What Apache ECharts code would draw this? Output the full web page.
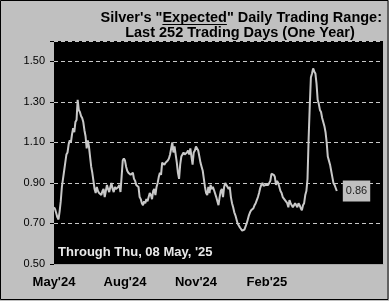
<!DOCTYPE html>
<html>
<head>
<meta charset="utf-8">
<script src="https://cdn.jsdelivr.net/npm/echarts@6/dist/echarts.min.js"></script>
<style>
html,body{margin:0;padding:0;background:#c0c0c0;}
#chart{width:389px;height:301px;}
</style>
</head>
<body>
<div id="chart"></div>
<script>
// Silver expected daily trading range, last 252 trading days (index 0 = May'24)
const values = [
  0.78, 0.77, 0.75, 0.73, 0.72, 0.76, 0.81, 0.88, 0.92, 0.96,
  1.00, 1.04, 1.05, 1.09, 1.11, 1.10, 1.14, 1.17, 1.15, 1.20,
  1.21, 1.31, 1.26, 1.25, 1.23, 1.22, 1.20, 1.16, 1.13, 1.07,
  1.11, 1.08, 1.03, 0.98, 0.95, 0.91, 0.87, 0.85, 0.88, 0.86,
  0.85, 0.85, 0.84, 0.86, 0.87, 0.83, 0.86, 0.89, 0.87, 0.855,
  0.88, 0.90, 0.87, 0.855, 0.88, 0.87, 0.865, 0.88, 0.89, 0.855,
  0.93, 1.01, 1.02, 1.01, 0.98, 0.96, 0.95, 0.95, 0.94, 0.945,
  0.95, 0.92, 0.91, 0.89, 0.885, 0.88, 0.83, 0.82, 0.80, 0.79,
  0.81, 0.80, 0.82, 0.81, 0.83, 0.85, 0.84, 0.82, 0.86, 0.87,
  0.84, 0.88, 0.90, 0.93, 0.95, 0.94, 1.00, 1.00, 0.99, 1.00,
  1.00, 1.01, 1.02, 1.04, 1.07, 1.10, 1.05, 1.08, 1.04, 1.00,
  0.95, 0.92, 0.99, 1.03, 1.03, 1.05, 1.04, 1.045, 1.05, 1.06,
  1.04, 1.07, 1.03, 0.99, 1.05, 1.06, 1.08, 1.08, 1.06, 1.03,
  1.00, 0.98, 0.96, 0.92, 0.88, 0.85, 0.84, 0.88, 0.85, 0.89,
  0.87, 0.88, 0.865, 0.86, 0.83, 0.81, 0.79, 0.83, 0.86, 0.87,
  0.83, 0.88, 0.90, 0.905, 0.88, 0.87, 0.88, 0.83, 0.80, 0.78,
  0.755, 0.74, 0.72, 0.70, 0.69, 0.68, 0.675, 0.665, 0.66, 0.67,
  0.675, 0.70, 0.72, 0.74, 0.755, 0.765, 0.76, 0.775, 0.79, 0.80,
  0.815, 0.83, 0.85, 0.875, 0.89, 0.90, 0.885, 0.89, 0.89, 0.885,
  0.89, 0.90, 0.91, 0.945, 0.95, 0.94, 0.93, 0.89, 0.91, 0.90,
  0.88, 0.86, 0.85, 0.83, 0.825, 0.815, 0.81, 0.80, 0.78, 0.815,
  0.80, 0.79, 0.78, 0.775, 0.80, 0.79, 0.78, 0.80, 0.79, 0.775,
  0.765, 0.79, 0.80, 0.84, 0.86, 0.92, 1.12, 1.28, 1.42, 1.44,
  1.465, 1.45, 1.44, 1.39, 1.31, 1.29, 1.26, 1.25, 1.22, 1.22,
  1.18, 1.15, 1.10, 1.03, 1.01, 0.99, 0.96, 0.93, 0.90, 0.89,
  0.875, 0.86
];
// x tick labels at every 63 trading days (one quarter)
const xTickIndex = [0, 63, 126, 189];
const xTickLabels = ["May'24", "Aug'24", "Nov'24", "Feb'25"];
const yTicks = [0.50, 0.70, 0.90, 1.10, 1.30, 1.50];
const titlePre = "Silver's \"";
const titleWord = "Expected";
const titlePost = "\" Daily Trading Range:";
const titleLine2 = "Last 252 Trading Days (One Year)";
const footNote = "Through Thu, 08 May, '25";

const seriesData = values.map((v, i) => [i, v]);

// measure title pieces for the underline under "Expected"
const titleFont = 'bold 14.5px "Liberation Sans", Arial';
const mctx = document.createElement('canvas').getContext('2d');
mctx.font = titleFont;
const fullTitle = titlePre + titleWord + titlePost;
const titleRight = 382;
const wFull = mctx.measureText(fullTitle).width;
const wPre = mctx.measureText(titlePre).width;
const wWord = mctx.measureText(titleWord).width;
const ulX1 = titleRight - wFull + wPre;
const ulX2 = ulX1 + wWord;

const chart = echarts.init(document.getElementById('chart'), null, {renderer: 'canvas'});
chart.setOption({
  animation: false,
  backgroundColor: '#c0c0c0',
  grid: {left: 54, top: 41, right: 6, bottom: 37, show: true, backgroundColor: '#000000', borderWidth: 0},
  xAxis: {
    type: 'value', min: 0, max: 292, interval: 63,
    axisLine: {show: true, lineStyle: {color: '#a8a8a8', width: 1}},
    axisTick: {show: false},
    splitLine: {show: false},
    axisLabel: {
      margin: 12, color: '#000', fontFamily: 'Liberation Sans, Arial', fontWeight: 'bold', fontSize: 13,
      formatter: function (v) { const k = xTickIndex.indexOf(Math.round(v)); return k >= 0 ? xTickLabels[k] : ''; }
    }
  },
  yAxis: {
    type: 'value', min: 0.5, max: 1.6, interval: 0.2,
    axisLine: {show: false},
    axisTick: {show: true, length: 4, lineStyle: {color: '#000'}},
    splitLine: {show: true, lineStyle: {color: '#c8c8c8', type: [4, 3], width: 1}},
    axisLabel: {
      margin: 9, color: '#000', fontFamily: 'Liberation Sans, Arial', fontSize: 11,
      formatter: function (v) { const k = yTicks.findIndex(t => Math.abs(t - v) < 1e-6); return k >= 0 ? yTicks[k].toFixed(2) : ''; }
    }
  },
  series: [{
    type: 'line', data: seriesData, showSymbol: false, silent: true,
    lineStyle: {color: '#c8c8c8', width: 2},
    endLabel: {
      show: true, distance: 6, formatter: p => p.value[1].toFixed(2),
      backgroundColor: '#c0c0c0', color: '#222', fontFamily: 'Liberation Sans, Arial', fontSize: 11,
      padding: [5, 3, 5, 3]
    }
  }],
  graphic: [
    {type: 'rect', silent: true, shape: {x: 0.5, y: 0.5, width: 387.5, height: 299}, style: {fill: null, stroke: '#000', lineWidth: 1}},
    {type: 'text', silent: true, style: {text: fullTitle, x: titleRight, y: 18, align: 'right', verticalAlign: 'middle', font: titleFont, fill: '#000'}},
    {type: 'line', silent: true, shape: {x1: ulX1, y1: 24.5, x2: ulX2, y2: 24.5}, style: {stroke: '#000', lineWidth: 1.2}},
    {type: 'text', silent: true, style: {text: titleLine2, x: 240, y: 33, align: 'center', verticalAlign: 'middle', font: titleFont, fill: '#000'}},
    {type: 'text', silent: true, z: 100, style: {text: footNote, x: 58, y: 252, align: 'left', verticalAlign: 'middle', font: 'bold 13px "Liberation Sans", Arial', fill: '#e8e8e8'}}
  ]
});
</script>
</body>
</html>
